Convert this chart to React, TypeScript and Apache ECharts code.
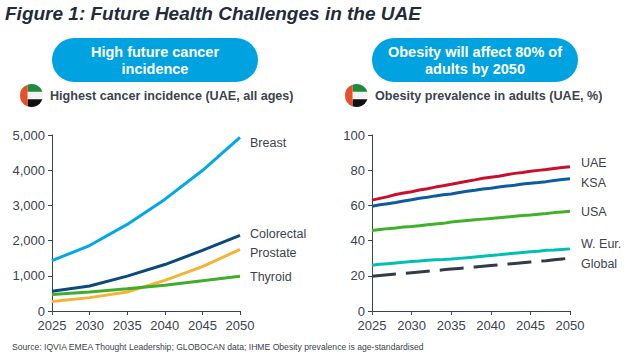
import React, { useEffect, useRef } from "react";
import * as echarts from "echarts";

const fiveYears = ["2025", "2030", "2035", "2040", "2045", "2050"];
const years = Array.from({ length: 26 }, (_, i) => String(2025 + i));
const breast = [1430, 1860, 2460, 3170, 3990, 4930];
const colorectal = [560, 710, 990, 1320, 1720, 2150];
const prostate = [270, 380, 540, 870, 1260, 1750];
const thyroid = [470, 540, 630, 730, 860, 990];
const uae = [63, 64, 65, 66.2, 67, 67.8, 68.7, 69.5, 70.4, 71.2, 72, 72.9, 73.7, 74.5, 75.4, 76, 76.6, 77.4, 78.2, 78.7, 79.4, 79.9, 80.4, 81, 81.5, 82];
const ksa = [59.5, 60.4, 61, 61.6, 62.5, 63.2, 64.1, 64.6, 65.4, 66.1, 66.5, 67.3, 68, 68.6, 69.3, 69.8, 70.5, 71, 71.4, 72.2, 72.6, 73, 73.5, 74.2, 74.7, 75.2];
const usa = [45.7, 46.3, 46.8, 47.2, 47.7, 48, 48.5, 49, 49.4, 49.8, 50.6, 51, 51.4, 51.8, 52.2, 52.6, 53, 53.4, 53.8, 54.2, 54.5, 55, 55.4, 55.9, 56.3, 56.7];
const wEur = [26, 26.5, 26.9, 27.3, 27.7, 28.1, 28.4, 28.8, 29.1, 29.2, 29.5, 29.9, 30.3, 30.7, 31.1, 31.5, 31.9, 32.4, 32.8, 33.2, 33.6, 34, 34.5, 34.7, 35, 35.3];
const globalRate = [19.8, 20.2, 20.6, 21, 21.4, 21.8, 22.2, 22.6, 23, 23.4, 23.8, 24.2, 24.6, 25, 25.4, 25.8, 26.2, 26.6, 27, 27.4, 27.8, 28.2, 28.6, 29.1, 29.6, 30];

const INK = "#3a444e";
const FONT = '"Liberation Sans", Arial, sans-serif';

echarts.graphic.registerShape("flagGreen", echarts.graphic.extendPath("M-4,-3.8 L10.85,-3.8 A11.5,11.5 0 0 0 -4,-10.78 Z", {}));
echarts.graphic.registerShape("flagBlack", echarts.graphic.extendPath("M-4,3.8 L10.85,3.8 A11.5,11.5 0 0 1 -4,10.78 Z", {}));
echarts.graphic.registerShape("flagRed", echarts.graphic.extendPath("M-4,-10.78 L-4,10.78 A11.5,11.5 0 0 1 -4,-10.78 Z", {}));

const flag = (x: number, y: number) => ({
  type: "group", x, y,
  children: [
    { type: "circle", shape: { cx: 0, cy: 0, r: 11.5 }, style: { fill: "#f2f2f2" } },
    { type: "flagGreen", style: { fill: "#1f8a3d" } },
    { type: "flagBlack", style: { fill: "#111111" } },
    { type: "flagRed", style: { fill: "#e8502a" } },
  ],
});

const pill = (x: number, w: number, lines: string[]) => ({
  type: "group",
  children: [
    { type: "rect", shape: { x, y: 38, width: w, height: 44, r: 22 }, style: { fill: "#00a3e0" } },
    ...lines.map((t, i) => ({
      type: "text",
      style: { text: t, x: x + w / 2, y: 52 + i * 17, fill: "#fff", font: `bold 14.5px ${FONT}`, align: "center", verticalAlign: "middle" },
    })),
  ],
});

const txt = (text: string, x: number, y: number, font: string, fill = INK, align = "left") => ({
  type: "text",
  style: { text, x, y, font, fill, align, verticalAlign: "middle" },
});

const lineSeries = (name: string, data: number[], color: string, idx: number, dashed = false) => ({
  name, type: "line", data, xAxisIndex: idx, yAxisIndex: idx,
  symbol: "none", smooth: false,
  lineStyle: { color, width: 3, type: dashed ? ([24, 10] as any) : "solid", cap: "butt" },
});

const xAxisBase = (data: string[], gridIndex: number, interval: number) => ({
  type: "category", data, gridIndex, boundaryGap: false,
  axisLine: { lineStyle: { color: INK, width: 1 } },
  axisTick: { show: true, length: 4, inside: false, alignWithLabel: true, interval, lineStyle: { color: INK } },
  axisLabel: { color: INK, fontSize: 13, lineHeight: 13, fontFamily: FONT, margin: 8, interval, showMinLabel: true, showMaxLabel: true },
  splitLine: { show: false },
});

const yAxisBase = (max: number, interval: number, gridIndex: number, fmt?: (v: number) => string) => ({
  type: "value", min: 0, max, interval, gridIndex,
  axisLine: { show: true, lineStyle: { color: INK, width: 1 } },
  axisTick: { show: true, length: 4, lineStyle: { color: INK } },
  axisLabel: { color: INK, fontSize: 13, lineHeight: 13, fontFamily: FONT, margin: 7, formatter: fmt },
  splitLine: { show: false },
});

export default function App() {
  const ref = useRef<HTMLDivElement>(null);
  useEffect(() => {
    const chart = echarts.init(ref.current!, undefined, { renderer: "svg" });
    chart.setOption({
      animation: false,
      backgroundColor: "#fff",
      grid: [
        { left: 52, top: 135, width: 188, height: 176 },
        { left: 372, top: 135, width: 198, height: 176 },
      ],
      xAxis: [xAxisBase(fiveYears, 0, 0), xAxisBase(years, 1, 4)],
      yAxis: [
        yAxisBase(5000, 1000, 0, (v: number) => v.toLocaleString("en-US")),
        yAxisBase(100, 20, 1),
      ],
      series: [
        lineSeries("Breast", breast, "#00a9e6", 0),
        lineSeries("Prostate", prostate, "#f5b335", 0),
        lineSeries("Thyroid", thyroid, "#3fae2a", 0),
        lineSeries("Colorectal", colorectal, "#0c4a7c", 0),
        lineSeries("UAE", uae, "#c8102e", 1),
        lineSeries("KSA", ksa, "#0f5c9c", 1),
        lineSeries("USA", usa, "#43b02a", 1),
        lineSeries("W. Eur.", wEur, "#00bfb3", 1),
        lineSeries("Global", globalRate, "#323c46", 1, true),
      ],
      graphic: [
        txt("Figure 1: Future Health Challenges in the UAE", 5, 13, `italic bold 19px ${FONT}`, "#1f2d3a"),
        pill(52, 206, ["High future cancer", "incidence"]),
        pill(372, 206, ["Obesity will affect 80% of", "adults by 2050"]),
        flag(31.5, 95.5),
        flag(356.5, 95.5),
        txt("Highest cancer incidence (UAE, all ages)", 50, 96, `bold 12.6px ${FONT}`),
        txt("Obesity prevalence in adults (UAE, %)", 375, 96, `bold 12.6px ${FONT}`),
        txt("Breast", 250, 143, `12.5px ${FONT}`),
        txt("Colorectal", 250, 234, `12.5px ${FONT}`),
        txt("Prostate", 250, 253, `12.5px ${FONT}`),
        txt("Thyroid", 250, 277, `12.5px ${FONT}`),
        txt("UAE", 581, 163, `12.5px ${FONT}`),
        txt("KSA", 581, 183, `12.5px ${FONT}`),
        txt("USA", 581, 212, `12.5px ${FONT}`),
        txt("W. Eur.", 581, 244, `12.5px ${FONT}`),
        txt("Global", 581, 264, `12.5px ${FONT}`),
        txt("Source: IQVIA EMEA Thought Leadership; GLOBOCAN data; IHME Obesity prevalence is age-standardised", 12, 347, `8.6px ${FONT}`),
      ],
    });
    return () => chart.dispose();
  }, []);
  return <div ref={ref} style={{ position: "fixed", left: 0, top: 0, width: 628, height: 356 }} />;
}
